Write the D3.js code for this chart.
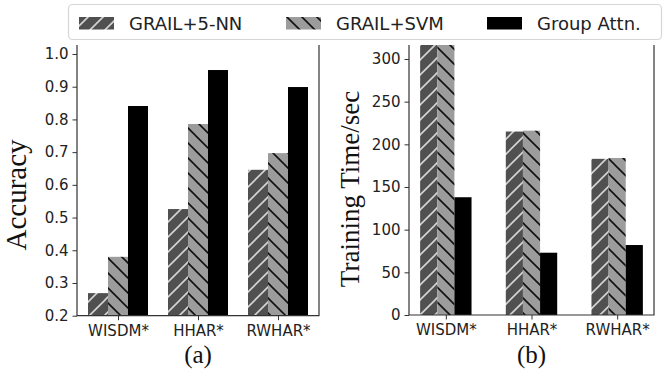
<!DOCTYPE html>
<html>
<head>
<meta charset="utf-8">
<script src="https://cdn.jsdelivr.net/npm/d3@7"></script>
<style>
  body { margin: 0; background: #fff; }
  svg { display: block; }
</style>
</head>
<body>
<svg id="chart" width="664" height="370"></svg>
<script>
// data
const categories = ["WISDM*", "HHAR*", "RWHAR*"];
const seriesNames = ["GRAIL+5-NN", "GRAIL+SVM", "Group Attn."];

const accKnn  = [0.269, 0.526, 0.646];
const accSvm  = [0.380, 0.786, 0.697];
const accAttn = [0.841, 0.951, 0.899];

// WISDM GRAIL bars run off the top of the axes
const timeKnn  = [320, 215, 183];
const timeSvm  = [320, 216, 184];
const timeAttn = [138, 73, 82];

const accTicks  = [0.2, 0.3, 0.4, 0.5, 0.6, 0.7, 0.8, 0.9, 1.0];
const timeTicks = [0, 50, 100, 150, 200, 250, 300];

var svg = d3.select("#chart");
var defs = svg.append("defs");

// hatch fills, anchored in page space so they line up like matplotlib's
function hatch(id, bg, fg, dir) {
  var s = 15;
  var p = defs.append("pattern")
    .attr("id", id)
    .attr("patternUnits", "userSpaceOnUse")
    .attr("width", s).attr("height", s);
  p.append("rect").attr("width", s).attr("height", s).attr("fill", bg);
  var d = dir == "/"
    ? "M0," + s + "L" + s + ",0 M-4,4 L4,-4 M" + (s - 4) + "," + (s + 4) + " L" + (s + 4) + "," + (s - 4)
    : "M0,0 L" + s + "," + s + " M-4," + (s - 4) + " L4," + (s + 4) + " M" + (s - 4) + ",-4 L" + (s + 4) + ",4";
  p.append("path").attr("d", d).attr("stroke", fg).attr("stroke-width", 1.6).attr("fill", "none");
}
hatch("hKnn", "#505050", "#d4d4d4", "/");
hatch("hSvm", "#9c9c9c", "#111", "\\");
const fills = ["url(#hKnn)", "url(#hSvm)", "#000"];

var tickFont = "'DejaVu Sans', sans-serif";
var serif = "'Liberation Serif', 'Times New Roman', serif";

function panel(opt) {
  var x = d3.scaleLinear().domain(opt.xDomain).range([opt.left, opt.right]);
  var y = d3.scaleLinear().domain(opt.yDomain).range([opt.bottom, opt.top]);
  var g = svg.append("g");

  defs.append("clipPath").attr("id", opt.id + "clip")
    .append("rect")
    .attr("x", opt.left).attr("y", opt.top)
    .attr("width", opt.right - opt.left).attr("height", opt.bottom - opt.top);

  var bars = g.append("g").attr("clip-path", "url(#" + opt.id + "clip)");
  opt.series.forEach(function(vals, si) {
    var off = (si - 1) * opt.bw;
    bars.append("g").selectAll("rect")
      .data(vals)
      .enter().append("rect")
      .attr("x", function(d, i) { return x(i + off - opt.bw / 2); })
      .attr("width", function() { return x(opt.bw) - x(0); })
      .attr("y", function(d) { return y(d); })
      .attr("height", function(d) { return y(opt.yDomain[0]) - y(d); })
      .attr("fill", fills[si]);
  });

  // y axis
  var ya = g.append("g")
    .attr("transform", "translate(" + opt.left + ",0)")
    .call(d3.axisLeft(y).tickValues(opt.ticks).tickFormat(opt.fmt).tickSize(4.5).tickPadding(4));
  // x axis
  var xa = g.append("g")
    .attr("transform", "translate(0," + opt.bottom + ")")
    .call(d3.axisBottom(x).tickValues([0, 1, 2]).tickFormat(function(d) { return categories[d]; }).tickSize(4.5).tickPadding(5));
  [ya, xa].forEach(function(a) {
    a.select(".domain").remove();
    a.selectAll(".tick line").attr("stroke", "#333").attr("stroke-width", 1);
    a.selectAll(".tick text").attr("font-family", tickFont).attr("font-size", 15).attr("fill", "#222");
  });

  // spines (no top one, the legend sits there)
  var sp = "M" + opt.left + "," + opt.top + "V" + opt.bottom + "H" + opt.right + "V" + opt.top;
  g.append("path").attr("d", sp).attr("fill", "none").attr("stroke", "#333").attr("stroke-width", 1.2);

  g.append("text")
    .attr("transform", "translate(" + opt.labelX + "," + opt.labelY + ") rotate(-90)")
    .attr("text-anchor", "middle")
    .attr("font-family", serif).attr("font-size", opt.labelSize).attr("fill", "#111")
    .text(opt.label);

  g.append("text")
    .attr("x", (opt.left + opt.right) / 2).attr("y", 363)
    .attr("text-anchor", "middle")
    .attr("font-family", serif).attr("font-size", 25).attr("fill", "#111")
    .text(opt.caption);
}

panel({
  id: "a", left: 77, right: 319, top: 45, bottom: 315.7,
  xDomain: [-0.5125, 2.5125], yDomain: [0.2, 1.0275], bw: 0.25,
  series: [accKnn, accSvm, accAttn], ticks: accTicks, fmt: d3.format(".1f"),
  label: "Accuracy", labelX: 26, labelY: 195, labelSize: 29, caption: "(a)"
});

panel({
  id: "b", left: 409, right: 654, top: 45, bottom: 315,
  xDomain: [-0.43, 2.43], yDomain: [0, 316.4], bw: 0.2,
  series: [timeKnn, timeSvm, timeAttn], ticks: timeTicks, fmt: d3.format("d"),
  label: "Training Time/sec", labelX: 359, labelY: 189, labelSize: 27, caption: "(b)"
});

// legend
var lg = svg.append("g");
lg.append("rect")
  .attr("x", 68.5).attr("y", 4.5).attr("width", 593).attr("height", 35)
  .attr("rx", 4)
  .attr("fill", "#fff").attr("stroke", "#d6d6d6").attr("stroke-width", 1.2);
const legendX = [79, 286, 487];
seriesNames.forEach(function(name, i) {
  lg.append("rect")
    .attr("x", legendX[i]).attr("y", 17).attr("width", 35).attr("height", 12.5)
    .attr("fill", fills[i]);
  lg.append("text")
    .attr("x", legendX[i] + 50).attr("y", 30)
    .attr("font-family", tickFont).attr("font-size", 18).attr("fill", "#222")
    .text(name);
});
</script>
</body>
</html>
